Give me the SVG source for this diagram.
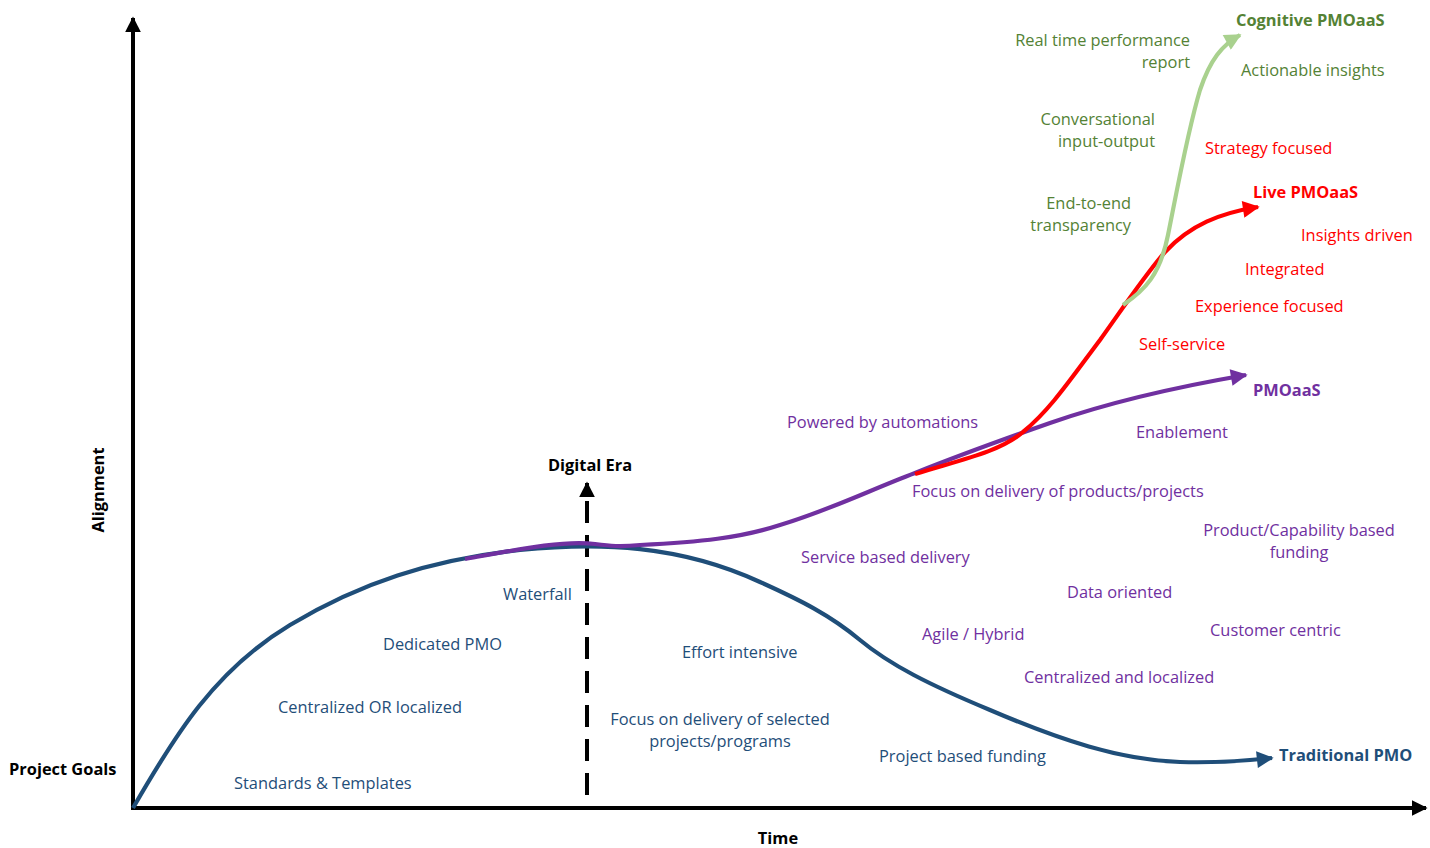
<svg xmlns="http://www.w3.org/2000/svg" width="1430" height="848" viewBox="0 0 1430 848">
  <style>
    text { font-family: "Open Sans", "Noto Sans", sans-serif; font-size: 16.4px; }
    .b { font-weight: bold; }
    .blue { fill: #1f4e79; }
    .purple { fill: #7030a0; }
    .red { fill: #ff0000; }
    .green { fill: #548235; }
    .black { fill: #000; }
    .curve { fill: none; stroke-width: 4.2; stroke-linecap: butt; }
  </style>
  <defs>
    <marker id="ah-black" viewBox="0 0 10 10" refX="9" refY="5" markerWidth="4" markerHeight="4" orient="auto" markerUnits="strokeWidth">
      <path d="M0,0 L10,5 L0,10 z" fill="#000"/>
    </marker>
    <marker id="ah-blue" viewBox="0 0 10 10" refX="9" refY="5" markerWidth="4.5" markerHeight="4" orient="auto" markerUnits="strokeWidth">
      <path d="M0,0 L10,5 L0,10 z" fill="#1f4e79"/>
    </marker>
    <marker id="ah-purple" viewBox="0 0 10 10" refX="9" refY="5" markerWidth="4.5" markerHeight="4" orient="auto" markerUnits="strokeWidth">
      <path d="M0,0 L10,5 L0,10 z" fill="#7030a0"/>
    </marker>
    <marker id="ah-red" viewBox="0 0 10 10" refX="9" refY="5" markerWidth="4.5" markerHeight="4" orient="auto" markerUnits="strokeWidth">
      <path d="M0,0 L10,5 L0,10 z" fill="#ff0000"/>
    </marker>
    <marker id="ah-green" viewBox="0 0 10 10" refX="9" refY="5" markerWidth="4.5" markerHeight="4" orient="auto" markerUnits="strokeWidth">
      <path d="M0,0 L10,5 L0,10 z" fill="#a9d18e"/>
    </marker>
  </defs>

  <rect width="1430" height="848" fill="#fff"/>

  <g id="connectors">
    <!-- axes -->
    <line x1="133" y1="810" x2="133" y2="18" stroke="#000" stroke-width="4" marker-end="url(#ah-black)"/>
    <line x1="131" y1="808" x2="1426" y2="808" stroke="#000" stroke-width="4" marker-end="url(#ah-black)"/>
    <!-- digital era marker -->
    <line x1="587" y1="795" x2="587" y2="483" stroke="#000" stroke-width="4" stroke-dasharray="22 12" marker-end="url(#ah-black)"/>
    <!-- traditional PMO -->
    <path class="curve" stroke="#1f4e79" marker-end="url(#ah-blue)"
          d="M133,808 C175,735 215,670 290,625 C360,583 430,560 520,550 C600,542 680,545 760,582 C800,600 830,615 860,640 C890,665 930,685 990,710 C1060,740 1120,760 1180,762 C1215,763 1245,761 1272,758"/>
    <!-- PMOaaS -->
    <path class="curve" stroke="#7030a0" marker-end="url(#ah-purple)"
          d="M465,559 C520,549 565,540 595,544 C610,546 620,547 640,545 C700,542 740,538 780,525 C830,510 870,490 915,473 C960,455 1010,437 1050,423 C1110,402 1170,388 1246,375"/>
    <!-- Live PMOaaS -->
    <path class="curve" stroke="#ff0000" marker-end="url(#ah-red)"
          d="M915,474 C960,460 1000,452 1023,432 C1050,410 1070,380 1100,340 C1125,305 1145,275 1165,252 C1190,225 1220,213 1258,207"/>
    <!-- Cognitive PMOaaS -->
    <path class="curve" stroke="#a9d18e" marker-end="url(#ah-green)"
          d="M1123,305 C1145,290 1160,275 1168,235 C1178,185 1188,130 1200,90 C1210,60 1222,45 1240,35"/>
  </g>

  <g id="axis-labels">
    <text class="b black" x="778" y="844" text-anchor="middle">Time</text>
    <text class="b black" x="9" y="775">Project Goals</text>
    <text class="b black" transform="translate(104,490) rotate(-90)" text-anchor="middle">Alignment</text>
    <text class="b black" x="590" y="471" text-anchor="middle">Digital Era</text>
  </g>

  <g id="traditional-pmo">
    <text class="b blue" x="1279" y="761">Traditional PMO</text>
    <text class="blue" x="503" y="600">Waterfall</text>
    <text class="blue" x="383" y="650">Dedicated PMO</text>
    <text class="blue" x="682" y="658">Effort intensive</text>
    <text class="blue" x="278" y="713">Centralized OR localized</text>
    <text class="blue" x="720" y="725" text-anchor="middle">Focus on delivery of selected</text>
    <text class="blue" x="720" y="747" text-anchor="middle">projects/programs</text>
    <text class="blue" x="879" y="762">Project based funding</text>
    <text class="blue" x="234" y="789">Standards &amp; Templates</text>
  </g>

  <g id="pmoaas">
    <text class="b purple" x="1253" y="396">PMOaaS</text>
    <text class="purple" x="787" y="428">Powered by automations</text>
    <text class="purple" x="1136" y="438">Enablement</text>
    <text class="purple" x="912" y="497">Focus on delivery of products/projects</text>
    <text class="purple" x="1299" y="536" text-anchor="middle">Product/Capability based</text>
    <text class="purple" x="1299" y="558" text-anchor="middle">funding</text>
    <text class="purple" x="801" y="563">Service based delivery</text>
    <text class="purple" x="1067" y="598">Data oriented</text>
    <text class="purple" x="922" y="640">Agile / Hybrid</text>
    <text class="purple" x="1210" y="636">Customer centric</text>
    <text class="purple" x="1024" y="683">Centralized and localized</text>
  </g>

  <g id="live-pmoaas">
    <text class="b red" x="1253" y="198">Live PMOaaS</text>
    <text class="red" x="1205" y="154">Strategy focused</text>
    <text class="red" x="1301" y="241">Insights driven</text>
    <text class="red" x="1245" y="275">Integrated</text>
    <text class="red" x="1195" y="312">Experience focused</text>
    <text class="red" x="1139" y="350">Self-service</text>
  </g>

  <g id="cognitive-pmoaas">
    <text class="b green" x="1236" y="26">Cognitive PMOaaS</text>
    <text class="green" x="1190" y="46" text-anchor="end">Real time performance</text>
    <text class="green" x="1190" y="68" text-anchor="end">report</text>
    <text class="green" x="1241" y="76">Actionable insights</text>
    <text class="green" x="1155" y="125" text-anchor="end">Conversational</text>
    <text class="green" x="1155" y="147" text-anchor="end">input-output</text>
    <text class="green" x="1131" y="209" text-anchor="end">End-to-end</text>
    <text class="green" x="1131" y="231" text-anchor="end">transparency</text>
  </g>
</svg>
